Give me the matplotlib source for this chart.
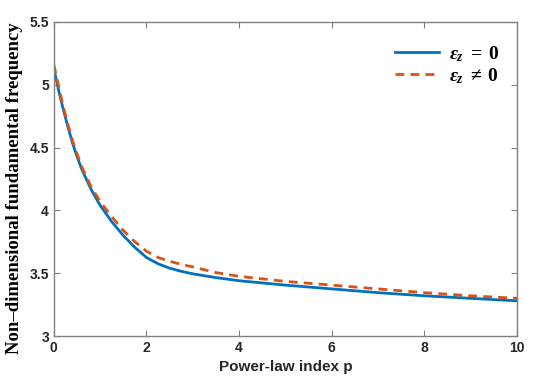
import matplotlib.pyplot as plt
import numpy as np

# values
p = [0, 0.1, 0.2, 0.3, 0.4, 0.5, 0.6, 0.7, 0.8, 1.0, 1.25, 1.5, 1.75,
     2, 2.25, 2.5, 2.75, 3, 3.5, 4, 5, 6, 7, 8, 9, 10]
freq_ez0 = [5.13, 4.96, 4.81, 4.67, 4.54, 4.43, 4.33, 4.25, 4.17, 4.04, 3.91, 3.80, 3.705,
            3.625, 3.575, 3.54, 3.515, 3.495, 3.465, 3.44, 3.405, 3.375, 3.345, 3.32, 3.30, 3.28]
freq_ez = [5.16, 4.99, 4.83, 4.69, 4.56, 4.45, 4.35, 4.27, 4.19, 4.07, 3.95, 3.84, 3.75,
           3.675, 3.625, 3.595, 3.57, 3.55, 3.505, 3.475, 3.435, 3.405, 3.375, 3.345, 3.32, 3.30]
xticks = [0, 2, 4, 6, 8, 10]
yticks = [3, 3.5, 4, 4.5, 5, 5.5]
ytick_labels = ['3', '3.5', '4', '4.5', '5', '5.5']

plt.rcParams['mathtext.fontset'] = 'custom'
plt.rcParams['mathtext.rm'] = 'Liberation Serif:bold'
plt.rcParams['mathtext.it'] = 'Liberation Serif:bold:italic'
plt.rcParams['mathtext.bf'] = 'Liberation Serif:bold'

fig = plt.figure(figsize=(5.33, 3.83), dpi=100)
ax = fig.add_axes([0.101, 0.1227, 0.869, 0.82])

ax.plot(p, freq_ez0, color='#0072BD', lw=2.0, label=r'$\varepsilon_z\;=\;0$')
ax.plot(p, freq_ez, color='#D95319', lw=2.0, ls=(0, (3.2, 2.2)), label=r'$\varepsilon_z\;\neq\;0$')

ax.set_xlim(0, 10)
ax.set_ylim(3, 5.5)
ax.set_xticks(xticks)
ax.set_yticks(yticks)
ax.set_yticklabels(ytick_labels)

gray = '#262626'
for s in ax.spines.values():
    s.set_color('#808080')
    s.set_linewidth(1.0)
ax.tick_params(direction='in', top=True, right=True, length=4, width=0.8,
               color='#808080', labelcolor=gray, labelsize=10)
for lab in ax.get_xticklabels() + ax.get_yticklabels():
    lab.set_fontfamily('Liberation Sans')
    lab.set_fontweight('bold')

ax.set_xlabel('Power-law index p', fontfamily='Liberation Sans', fontweight='bold',
              fontsize=11, color=gray, labelpad=4)
ax.set_ylabel('Non\u2013dimensional fundamental frequency', fontfamily='Liberation Serif',
              fontweight='bold', fontsize=13.5, color='black')
ax.yaxis.set_label_coords(-0.067, 0.47)

leg = ax.legend(loc='upper right', bbox_to_anchor=(1.0, 0.985), frameon=False,
                fontsize=14, handlelength=2.3, handletextpad=0.5, labelspacing=0.1)

fig.savefig('out.png', dpi=100)
